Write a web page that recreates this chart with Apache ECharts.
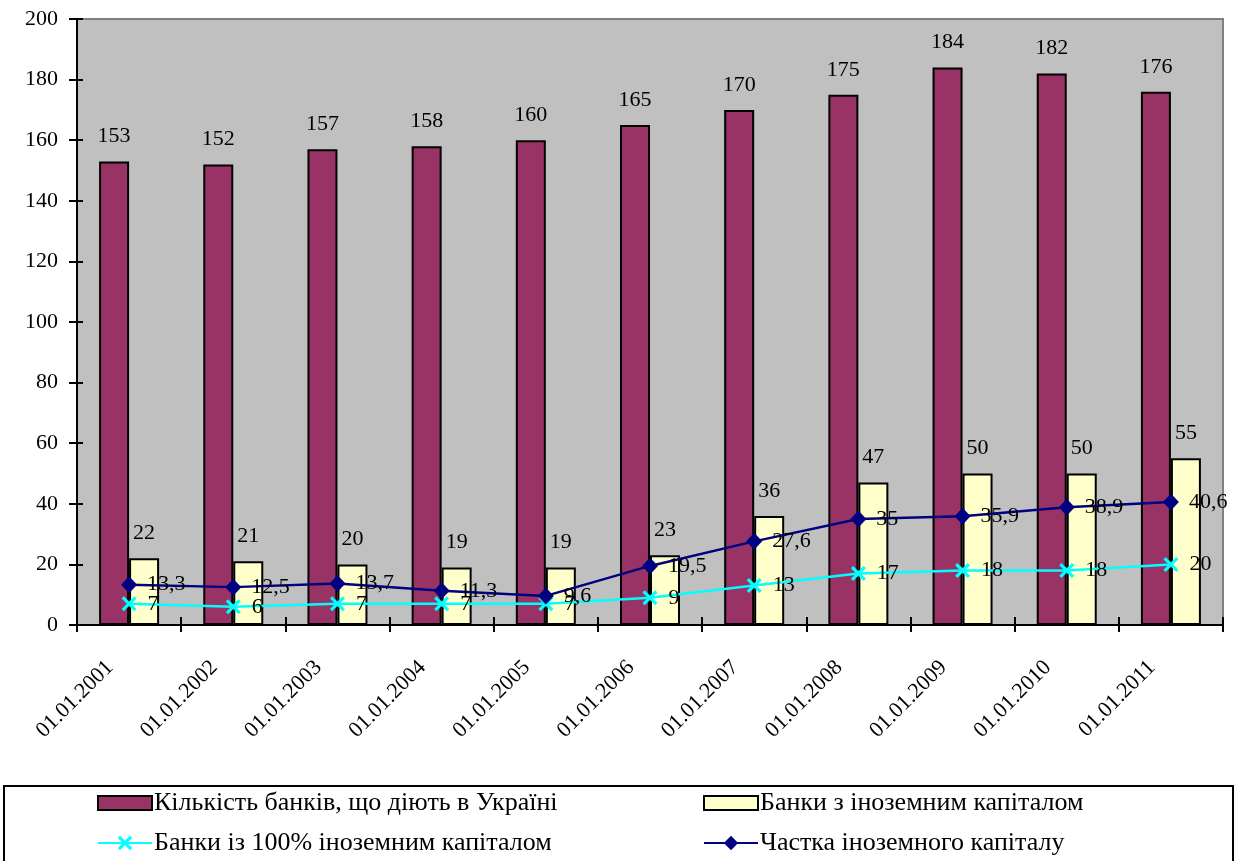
<!DOCTYPE html>
<html>
<head>
<meta charset="utf-8">
<script src="https://cdn.jsdelivr.net/npm/echarts@6/dist/echarts.min.js"></script>
<style>
  html, body { margin: 0; padding: 0; background: #ffffff; }
  #chart { width: 1243px; height: 861px; }
</style>
</head>
<body>
<div id="chart"></div>
<script>
// Banking sector of Ukraine, 2001–2011
const dates = ['01.01.2001', '01.01.2002', '01.01.2003', '01.01.2004', '01.01.2005', '01.01.2006',
               '01.01.2007', '01.01.2008', '01.01.2009', '01.01.2010', '01.01.2011'];
const banksTotal = [153, 152, 157, 158, 160, 165, 170, 175, 184, 182, 176];
const banksForeign = [22, 21, 20, 19, 19, 23, 36, 47, 50, 50, 55];
const banksFullForeign = [7, 6, 7, 7, 7, 9, 13, 17, 18, 18, 20];
const foreignShare = [13.3, 12.5, 13.7, 11.3, 9.6, 19.5, 27.6, 35, 35.9, 38.9, 40.6];
const yTicks = { min: 0, max: 200, step: 20 };

const names = [
  'Кількість банків, що діють в Україні',
  'Банки з іноземним капіталом',
  'Банки із 100% іноземним капіталом',
  'Частка іноземного капіталу'
];

const FONT = '"Liberation Serif", "Times New Roman", serif';
const crossPath = 'path://M3,0L10,7L17,0L20,3L13,10L20,17L17,20L10,13L3,20L0,17L7,10L0,3Z';
const comma = v => String(v).replace('.', ',');

const textBase = { fontFamily: FONT, fontSize: 22, color: '#000' };

const chart = echarts.init(document.getElementById('chart'), null, { renderer: 'canvas' });

// one legend entry per component so the entries sit in two fixed columns
function legendAt(name, left, top, icon) {
  const isBar = !!icon;
  const lg = {
    data: [{ name: name }], left: left, top: top, orient: 'horizontal',
    itemWidth: 54, itemHeight: isBar ? 14 : 18, padding: 0, selectedMode: false,
    textStyle: { fontFamily: FONT, fontSize: 26, lineHeight: 28, color: '#000', padding: [0, 0, 0, -3] }
  };
  if (icon) lg.data[0].icon = icon;
  return lg;
}

chart.setOption({
  animation: false,
  backgroundColor: '#ffffff',
  graphic: [{
    type: 'rect', left: 3, top: 785, z: -1,
    shape: { width: 1229, height: 90 },
    style: { fill: '#ffffff', stroke: '#000', lineWidth: 2 }
  }],
  legend: [
    legendAt(names[0], 97, 789, 'rect'),
    legendAt(names[1], 703, 789, 'rect'),
    legendAt(names[2], 97, 829),
    legendAt(names[3], 703, 829)
  ],
  grid: {
    left: 77, right: 20, top: 19, bottom: 236,
    show: true, backgroundColor: '#c0c0c0', borderColor: '#808080', borderWidth: 2
  },
  xAxis: [{
    type: 'category', data: dates,
    axisLine: { lineStyle: { color: '#000', width: 2 } },
    axisTick: { show: true, length: 7, lineStyle: { color: '#000', width: 2 } },
    axisLabel: Object.assign({}, textBase, { rotate: 45, margin: 20, fontSize: 22, interval: 0, padding: [0, 27, 0, 0] }),
    splitLine: { show: false }
  }, {
    type: 'category', data: dates, position: 'bottom',
    axisLine: { show: false },
    axisTick: { show: true, inside: true, length: 8, lineStyle: { color: '#000', width: 2 } },
    axisLabel: { show: false },
    splitLine: { show: false }
  }],
  yAxis: [{
    type: 'value', min: yTicks.min, max: yTicks.max, interval: yTicks.step,
    axisLine: { show: true, lineStyle: { color: '#000', width: 2 } },
    axisTick: { show: true, length: 8, lineStyle: { color: '#000', width: 2 } },
    axisLabel: Object.assign({}, textBase, { margin: 19 }),
    splitLine: { show: false }
  }, {
    type: 'value', min: yTicks.min, max: yTicks.max, interval: yTicks.step, position: 'left',
    axisLine: { show: false },
    axisTick: { show: true, inside: true, length: 6, lineStyle: { color: '#000', width: 2 } },
    axisLabel: { show: false },
    splitLine: { show: false }
  }],
  series: [{
    name: names[0], type: 'bar', data: banksTotal,
    barWidth: 30, barGap: '0%',
    itemStyle: { color: '#993366', borderColor: '#000', borderWidth: 2 },
    label: Object.assign({ show: true, position: 'top', distance: 14 }, textBase)
  }, {
    name: names[1], type: 'bar', data: banksForeign,
    barWidth: 30, barGap: '0%',
    itemStyle: { color: '#ffffcc', borderColor: '#000', borderWidth: 2 },
    label: Object.assign({ show: true, position: 'top', distance: 14 }, textBase)
  }, {
    name: names[2], type: 'line', data: banksFullForeign,
    symbol: crossPath, symbolSize: 15, z: 5,
    lineStyle: { color: '#00ffff', width: 2.5 },
    itemStyle: { color: '#00ffff' },
    label: Object.assign({ show: true, position: 'right', distance: 11, formatter: p => comma(p.value) }, textBase)
  }, {
    name: names[3], type: 'line', data: foreignShare,
    symbol: 'diamond', symbolSize: [16, 17], z: 6,
    lineStyle: { color: '#000080', width: 2.5 },
    itemStyle: { color: '#000080' },
    label: Object.assign({ show: true, position: 'right', distance: 10, formatter: p => comma(p.value) }, textBase)
  }]
});
</script>
</body>
</html>
